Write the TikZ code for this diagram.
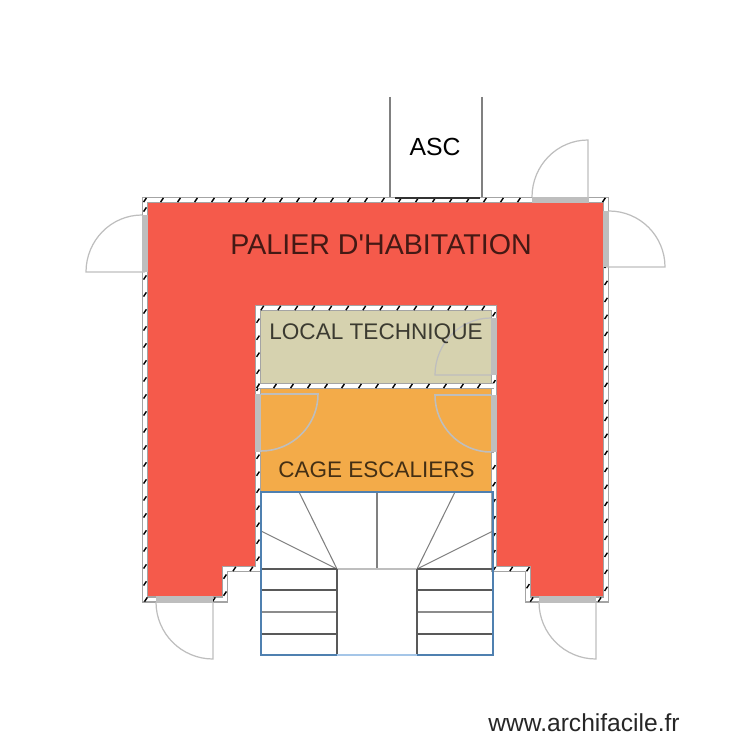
\documentclass[tikz,border=0pt]{standalone}
\usepackage{fontspec}
\setmainfont{Liberation Sans}
\usetikzlibrary{decorations.markings}
\definecolor{palierred}{HTML}{F55A4B}
\definecolor{localbeige}{HTML}{D6D2AF}
\definecolor{cageorange}{HTML}{F3AB49}
\definecolor{doorgray}{HTML}{BEBEBE}
\definecolor{wallgray}{HTML}{A4A4A4}
\definecolor{stairblue}{HTML}{4F80B0}
\definecolor{stairlight}{HTML}{A5C6E8}
\tikzset{
wallline/.style={draw=none,
  preaction={draw=wallgray,line width=3.6pt},
  preaction={draw=white,line width=2pt},
  postaction={decorate,decoration={markings,
    mark=between positions 0 and 1 step 0.34cm with {\pgftransformresetnontranslations
      \draw[black,line width=0.8pt] (-0.8pt,-1.2pt)-- (0.8pt,1.2pt);}}}},
doorwall/.style={draw=doorgray,line width=3.5pt},
doorleaf/.style={draw=doorgray,line width=0.7pt},
stairline/.style={draw=black!65,line width=0.8pt},
winder/.style={draw=black!50,line width=0.6pt},
roomlabel/.style={inner sep=0pt,text opacity=0.72}
}
\begin{document}
\begin{tikzpicture}[line cap=butt,line join=miter,x=0.02cm,y=-0.02cm]
\useasboundingbox (0,0) rectangle (750,750);
\fill [palierred] (148,203)-- (603,203)-- (603,597)-- (530,597)-- (530,566)-- (497,566)-- (497,305)-- (255,305)-- (255,566)-- (222,566)-- (222,597)-- (148,597)-- cycle;
\fill [localbeige] (261,311) rectangle (491,383);
\fill [cageorange] (261,389) rectangle (491,492);
\draw [wallline] (145,200)-- (606,200)-- (606,599.5)-- (528,599.5)-- (528,569)-- (494,569)-- (494,308)-- (258,308)-- (258,569)-- (225,569)-- (225,599.5)-- (145,599.5)-- cycle;
\draw [wallline] (258,386)-- (494,386);
\draw [line width=0.65pt,draw=black!50] (390,97)-- (390,197);
\draw [line width=0.65pt,draw=black!50] (482,97)-- (482,197);
\draw [line width=1.7pt,draw=black!80] (395,198)-- (480,198);
% portes
\draw [doorwall] (145,215)-- (145,272);
\draw [doorleaf] (145,272)-- (86,272) arc (180:270:56 and 57);
\draw [doorwall] (532,200)-- (589,200);
\draw [doorleaf] (588,197)-- (588,140) arc (270:180:56 and 57);
\draw [doorwall] (606,211)-- (606,267);
\draw [doorleaf] (606,267)-- (665,267) arc (0:-90:56 and 56);
\draw [doorwall] (494,318)-- (494,375);
\draw [doorleaf] (491,375)-- (435,375) arc (180:270:56 and 57);
\draw [doorwall] (258,394)-- (258,452);
\draw [doorleaf,line width=0.9pt] (261,394)-- (318,394) arc (0:90:57 and 57);
\draw [doorwall] (494,395)-- (494,452);
\draw [doorleaf,line width=0.9pt] (491,395)-- (435,395) arc (180:90:56 and 57);
\draw [doorwall] (156,599.5)-- (213,599.5);
\draw [doorleaf] (213,602)-- (213,659) arc (90:180:57 and 57);
\draw [doorwall] (539,599.5)-- (596,599.5);
\draw [doorleaf] (596,602)-- (596,659) arc (90:180:57 and 57);
% escaliers
\draw [winder] (337,569)-- (299,492);
\draw [winder] (337,569)-- (261,531);
\draw [winder] (417,569)-- (455,492);
\draw [winder] (417,569)-- (493,531);
\draw [winder] (377,492)-- (377,569);
\draw [draw=doorgray,line width=0.8pt] (337,569)-- (417,569);
\foreach \y in {569,590,634} {
\draw [stairline] (261,\y)-- (337,\y);
\draw [stairline] (417,\y)-- (493,\y);
}
\draw [stairline,draw=black!45,line width=1.5pt] (261,612)-- (337,612);
\draw [stairline,draw=black!45,line width=1.5pt] (417,612)-- (493,612);
\draw [stairline,line width=1pt] (337,569)-- (337,655);
\draw [stairline,line width=1pt] (417,569)-- (417,655);
\draw [draw=stairlight,line width=1pt] (337,655)-- (417,655);
\draw [draw=stairblue,line width=1pt] (337,655)-- (261,655)-- (261,492)-- (493,492)-- (493,655)-- (417,655);
\node [roomlabel] (palier) at (381,245) {\fontsize{16.3pt}{18pt}\selectfont PALIER D\textquotesingle HABITATION};
\node [roomlabel] (local) at (376,333.5) {\fontsize{12.85pt}{15pt}\selectfont LOCAL TECHNIQUE};
\node [roomlabel] (cage) at (376.5,470) {\fontsize{12.8pt}{15pt}\selectfont CAGE ESCALIERS};
\node [inner sep=0pt] (asc) at (435,147) {\fontsize{14.1pt}{16pt}\selectfont ASC};
\node [inner sep=0pt,text=black!85] (site) at (584,723) {\fontsize{14pt}{16pt}\selectfont www.archifacile.fr};
\end{tikzpicture}
\end{document}
